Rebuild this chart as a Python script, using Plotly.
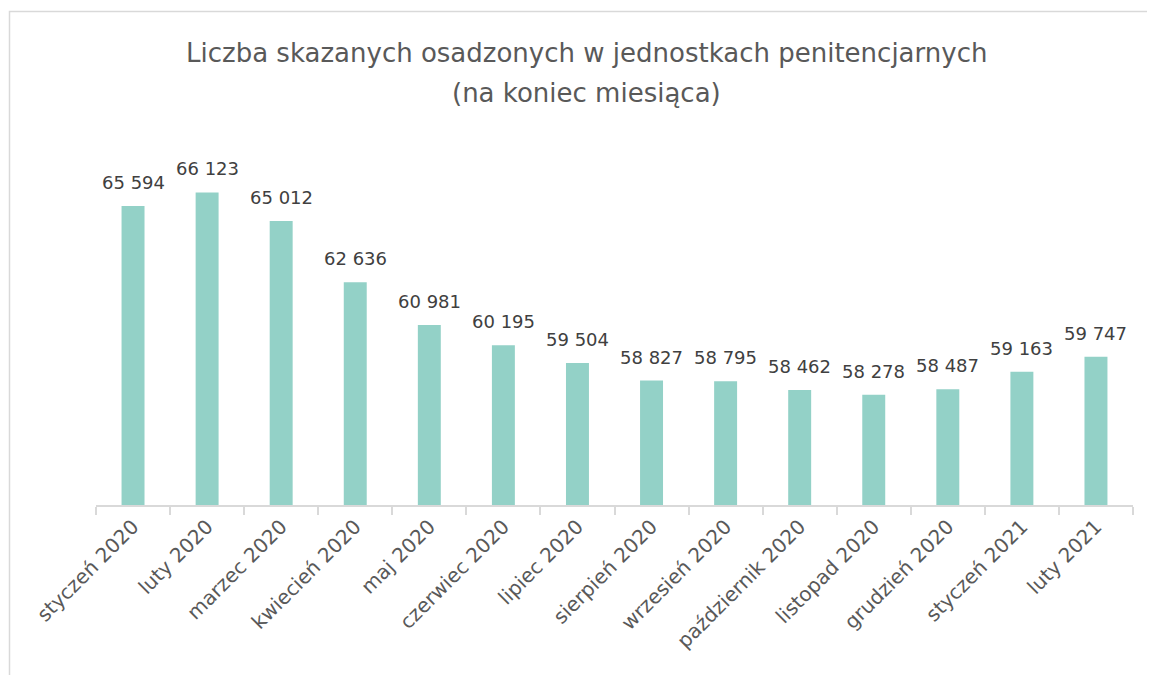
import plotly.graph_objects as go

months = ["styczeń 2020", "luty 2020", "marzec 2020", "kwiecień 2020", "maj 2020",
          "czerwiec 2020", "lipiec 2020", "sierpień 2020", "wrzesień 2020",
          "październik 2020", "listopad 2020", "grudzień 2020", "styczeń 2021", "luty 2021"]
values = [65594, 66123, 65012, 62636, 60981, 60195, 59504, 58827, 58795,
          58462, 58278, 58487, 59163, 59747]
title_lines = ["Liczba skazanych osadzonych w jednostkach penitencjarnych",
               "(na koniec miesiąca)"]

labels = [f"{v:,}".replace(",", " ") for v in values]

OFF = 8  # browser default body margin
W, H = 1155 - OFF, 675 - OFF
L, R, T, B = 96 - OFF, 22, 144 - OFF, 170
pw, ph = W - L - R, H - T - B
FONT = "'DejaVu Sans', Inter, sans-serif"

fig = go.Figure(go.Bar(
    x=months, y=values,
    marker=dict(color="#93d1c7", line=dict(width=0)),
    cliponaxis=False, hoverinfo="skip",
))

def px_x(p):
    return (p - OFF - L) / pw

def px_y(p):
    return (H - B - (p - OFF)) / ph

value_annotations = [
    dict(x=m, y=v, text=t, xref="x", yref="y", showarrow=False,
         xanchor="center", yanchor="bottom", yshift=11,
         font=dict(size=18, color="#404040", family=FONT))
    for m, v, t in zip(months, values, labels)
]

fig.update_layout(
    width=W, height=H,
    margin=dict(l=L, r=R, t=T, b=B, autoexpand=False),
    paper_bgcolor="white", plot_bgcolor="white",
    bargap=0.69, showlegend=False,
    font=dict(family=FONT, color="#595959"),
    xaxis=dict(showline=True, linecolor="#d9d9d9", linewidth=2,
               ticks="outside", tickson="boundaries", ticklen=8, tickcolor="#d9d9d9", tickwidth=2,
               tickangle=-45, tickfont=dict(size=20, color="#595959", family=FONT),
               showgrid=False, fixedrange=True),
    yaxis=dict(range=[54000, 68000], visible=False, showgrid=False, fixedrange=True),
    annotations=[
        dict(text=title_lines[0], x=px_x(586), y=px_y(53), xref="paper", yref="paper",
             showarrow=False, xanchor="center", yanchor="middle",
             font=dict(size=26, color="#595959", family=FONT)),
        dict(text=title_lines[1], x=px_x(586), y=px_y(93), xref="paper", yref="paper",
             showarrow=False, xanchor="center", yanchor="middle",
             font=dict(size=26, color="#595959", family=FONT)),
    ] + value_annotations,
    shapes=[dict(type="rect", xref="paper", yref="paper",
                 x0=px_x(9.5), x1=px_x(1170), y0=px_y(690), y1=px_y(11.5),
                 line=dict(color="#d9d9d9", width=1.5), fillcolor="rgba(0,0,0,0)", layer="below")],
)

fig.write_html("out.html")
